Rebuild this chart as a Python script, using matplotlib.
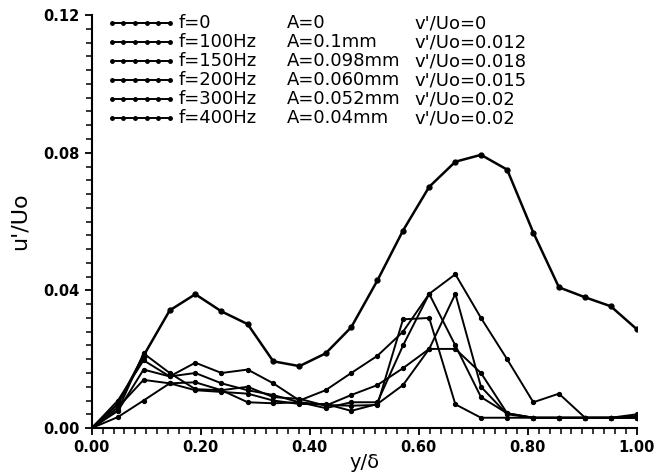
import numpy as np
import matplotlib
matplotlib.use("Agg")
import matplotlib.pyplot as plt
from matplotlib.ticker import MultipleLocator, FormatStrFormatter

# y/delta positions (22 stations)
x = [0.000, 0.048, 0.095, 0.143, 0.190, 0.238, 0.286, 0.333, 0.381, 0.429, 0.476,
     0.524, 0.571, 0.619, 0.667, 0.714, 0.762, 0.810, 0.857, 0.905, 0.952, 1.000]

# u'/Uo for each forcing case
u_f0 = [0, .007, .021, .0342, .0389, .0339, .0302, .0194, .018, .0217, .0293,
        .0429, .0574, .0701, .0774, .0794, .0751, .0568, .0409, .038, .0354, .0287]
u_f100 = [0, .005, .017, .015, .019, .016, .017, .013, .008, .011, .016,
          .021, .028, .039, .0447, .032, .020, .0075, .010, .003, .003, .004]
u_f150 = [0, .008, .0197, .015, .016, .013, .011, .0096, .0075, .0067, .0065,
          .0067, .0316, .032, .0069, .003, .003, .003, .003, .003, .003, .003]
u_f200 = [0, .006, .014, .013, .0133, .011, .0075, .0072, .0075, .0058, .0075,
          .0075, .024, .039, .024, .009, .0043, .003, .003, .003, .003, .003]
u_f300 = [0, .0032, .008, .013, .011, .0105, .010, .008, .007, .007, .005,
          .007, .0125, .023, .039, .012, .004, .003, .003, .003, .003, .003]
u_f400 = [0, .0052, .0217, .016, .0113, .011, .012, .009, .0085, .0065, .0096,
          .0125, .0174, .023, .023, .016, .0043, .003, .003, .003, .003, .0035]

freqs = ["f=0", "f=100Hz", "f=150Hz", "f=200Hz", "f=300Hz", "f=400Hz"]
amps = ["A=0", "A=0.1mm", "A=0.098mm", "A=0.060mm", "A=0.052mm", "A=0.04mm"]
vrms = ["v'/Uo=0", "v'/Uo=0.012", "v'/Uo=0.018", "v'/Uo=0.015", "v'/Uo=0.02", "v'/Uo=0.02"]
series = [u_f0, u_f100, u_f150, u_f200, u_f300, u_f400]

fig = plt.figure(figsize=(6.6, 4.73), dpi=100)
ax = fig.add_axes([0.139, 0.095, 0.826, 0.873])

for i, y in enumerate(series):
    lw = 1.8 if i == 0 else 1.4
    ax.plot(x, y, color="black", lw=lw, marker="o", ms=3.5 if i == 0 else 2.8)

ax.set_xlim(0, 1.0)
ax.set_ylim(0, 0.12)
ax.xaxis.set_major_locator(MultipleLocator(0.2))
ax.xaxis.set_minor_locator(MultipleLocator(0.02))
ax.yaxis.set_major_locator(MultipleLocator(0.04))
ax.yaxis.set_minor_locator(MultipleLocator(0.004))
ax.xaxis.set_major_formatter(FormatStrFormatter("%.2f"))
ax.yaxis.set_major_formatter(FormatStrFormatter("%.2f"))
ax.tick_params(which="major", direction="out", length=5, width=1.3, labelsize=10.5)
ax.tick_params(which="minor", direction="out", length=4, width=1.1)
for lbl in ax.get_xticklabels() + ax.get_yticklabels():
    lbl.set_fontweight("bold")
ax.spines["top"].set_visible(False)
ax.spines["right"].set_visible(False)
ax.spines["left"].set_linewidth(1.5)
ax.spines["bottom"].set_linewidth(1.5)

ax.set_xlabel("y/δ", fontsize=14, labelpad=-1)
ax.set_ylabel("u'/Uo", fontsize=16, labelpad=10)

# hand-made legend block in the upper left
for i in range(6):
    yy = 1 - (8 + i * 19) / 413
    lx = np.linspace(0.037, 0.143, 6)
    ax.plot(lx, [yy] * 6, transform=ax.transAxes, color="black",
            lw=1.4, marker="o", ms=2.5, clip_on=False)
    ax.text(0.160, yy, freqs[i], transform=ax.transAxes, fontsize=13, va="center")
    ax.text(0.358, yy, amps[i], transform=ax.transAxes, fontsize=13, va="center")
    ax.text(0.592, yy, vrms[i], transform=ax.transAxes, fontsize=13, va="center")

fig.savefig("out.png", dpi=100)
